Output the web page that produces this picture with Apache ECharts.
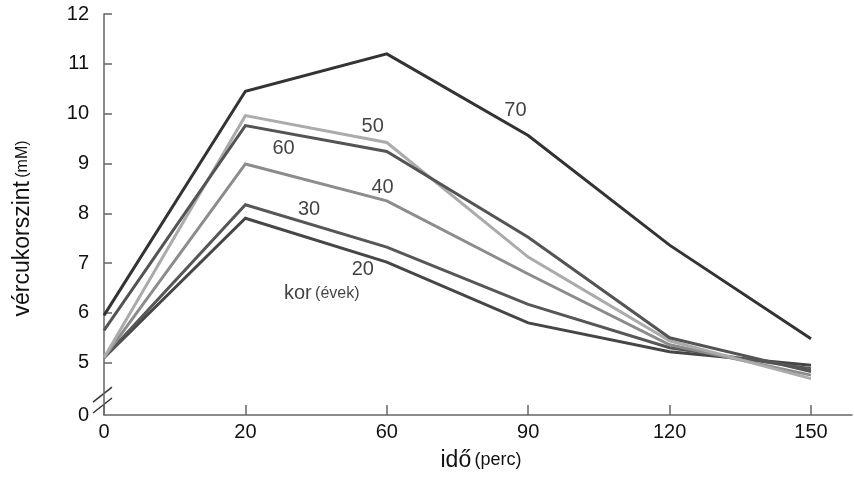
<!DOCTYPE html>
<html>
<head>
<meta charset="utf-8">
<script src="https://cdn.jsdelivr.net/npm/echarts@6/dist/echarts.min.js"></script>
<style>
  html, body { margin: 0; padding: 0; background: #fff; }
  #main { width: 854px; height: 477px; }
</style>
</head>
<body>
<div id="main"></div>
<script>
// idő (perc) - egyenletes osztásközzel rajzolva
const times = ['0', '20', '60', '90', '120', '150'];

// vércukorszint (mM) korcsoportonként
const age20 = [5.10, 7.90, 7.02, 5.80, 5.22, 4.95];
const age30 = [5.10, 8.17, 7.32, 6.17, 5.30, 4.88];
const age40 = [5.10, 8.99, 8.25, 6.78, 5.36, 4.75];
const age50 = [5.10, 9.96, 9.42, 7.12, 5.44, 4.68];
const age60 = [5.65, 9.76, 9.24, 7.52, 5.50, 4.82];
const age70 = [5.95, 10.45, 11.20, 9.56, 7.36, 5.48];

// felirat-horgonyok (x = időpont sorszáma, y = mM)
const labelText = ['70', '50', '60', '40', '30', '20'];
const labelX = [2.91, 1.90, 1.27, 1.97, 1.45, 1.83];
const labelY = [10.06, 9.74, 9.30, 8.51, 8.07, 6.88];

// y tengely: a legalsó érték a "0" (megszakított tengely)
const yBottom = 3.95;
const yLabelValues = [yBottom, 5, 6, 7, 8, 9, 10, 11, 12];
const yTickValues = [5, 6, 7, 8, 9, 10, 11, 12];

const FONT = 'Liberation Sans';
const TXT = '#111';
const AXIS = '#666';

function toPts(arr) {
    return arr.map((v, i) => [i, v]);
}

const lines = [
    { name: '20', data: age20, color: '#464646' },
    { name: '30', data: age30, color: '#575757' },
    { name: '40', data: age40, color: '#8c8c8c' },
    { name: '50', data: age50, color: '#ababab' },
    { name: '60', data: age60, color: '#545454' },
    { name: '70', data: age70, color: '#333333' }
];

const chart = echarts.init(document.getElementById('main'), null, { renderer: 'canvas' });

const option = {
    animation: false,
    grid: { left: 104, right: 2, top: 14, bottom: 57, containLabel: false },
    xAxis: {
        type: 'value',
        min: 0,
        max: 5.29,
        name: '{a|idő} {b|(perc)}',
        nameLocation: 'middle',
        nameGap: 34,
        nameTextStyle: {
            padding: [0, 0, 0, 6],
            rich: {
                a: { fontFamily: FONT, fontSize: 23, color: TXT },
                b: { fontFamily: FONT, fontSize: 18, color: TXT }
            }
        },
        axisLine: { show: true, lineStyle: { color: AXIS, width: 1.5 } },
        axisTick: { show: true, inside: true, length: 10, customValues: [0, 1, 2, 3, 4, 5], lineStyle: { color: AXIS, width: 1.5 } },
        axisLabel: {
            customValues: [0, 1, 2, 3, 4, 5],
            formatter: v => times[Math.round(v)],
            fontFamily: FONT, fontSize: 20, color: TXT, margin: 7
        },
        splitLine: { show: false }
    },
    yAxis: {
        type: 'value',
        min: yBottom,
        max: 12,
        name: '{a|vércukorszint} {b|(mM)}',
        nameLocation: 'middle',
        nameGap: 70,
        nameRotate: 90,
        nameTextStyle: {
            padding: [0, 28, 0, 0],
            rich: {
                a: { fontFamily: FONT, fontSize: 23, color: TXT },
                b: { fontFamily: FONT, fontSize: 16, color: TXT }
            }
        },
        axisLine: { show: true, lineStyle: { color: AXIS, width: 1.5 } },
        axisTick: { show: true, inside: true, length: 8, customValues: yTickValues, lineStyle: { color: AXIS, width: 1.5 } },
        axisLabel: {
            customValues: yLabelValues,
            formatter: v => (v < 4.5 ? '0' : String(v)),
            fontFamily: FONT, fontSize: 20, color: TXT, margin: 15
        },
        splitLine: { show: false }
    },
    series: lines.map(l => ({
        type: 'line',
        name: l.name,
        data: toPts(l.data),
        symbol: 'none',
        lineStyle: { color: l.color, width: 3, join: 'miter' },
        emphasis: { disabled: true }
    })).concat([{
        type: 'scatter',
        name: 'cimkek',
        symbolSize: 1,
        itemStyle: { color: 'rgba(0,0,0,0)' },
        data: labelText.map((t, i) => ({ value: [labelX[i], labelY[i]], name: t })),
        label: {
            show: true,
            position: 'inside',
            formatter: p => p.name,
            fontFamily: FONT, fontSize: 20, color: TXT
        },
        emphasis: { disabled: true },
        silent: true
    }, {
        type: 'scatter',
        name: 'kor',
        symbolSize: 1,
        itemStyle: { color: 'rgba(0,0,0,0)' },
        data: [[1.54, 6.38]],
        label: {
            show: true,
            position: 'inside',
            formatter: '{a|kor} {b|(évek)}',
            rich: {
                a: { fontFamily: FONT, fontSize: 20, color: TXT },
                b: { fontFamily: FONT, fontSize: 16, color: TXT }
            }
        },
        emphasis: { disabled: true },
        silent: true
    }])
};

chart.setOption(option);

// tengelytörés jele (//) az y tengelyen
const b1 = chart.convertToPixel({ gridIndex: 0 }, [0, 4.13]);
const b2 = chart.convertToPixel({ gridIndex: 0 }, [0, 4.35]);
chart.setOption({
    graphic: [b1, b2].map(p => ({
        type: 'line',
        shape: { x1: p[0] - 11, y1: p[1] + 7, x2: p[0] + 8, y2: p[1] - 8 },
        style: { stroke: '#333', lineWidth: 1.5 },
        silent: true
    }))
});
</script>
</body>
</html>
